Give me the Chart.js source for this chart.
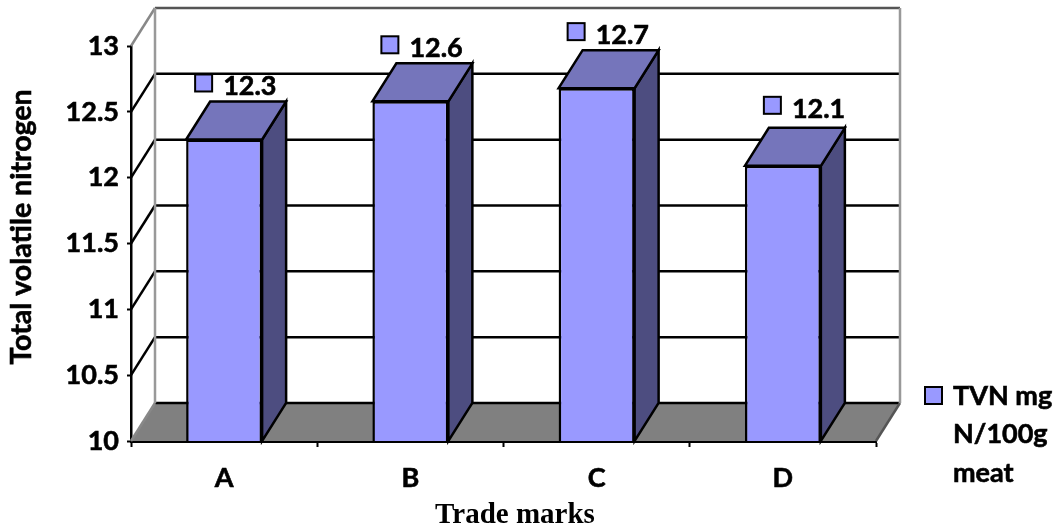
<!DOCTYPE html>
<html>
<head>
<meta charset="utf-8">
<title>Total volatile nitrogen</title>
<script src="https://cdn.jsdelivr.net/npm/chart.js@4/dist/chart.umd.min.js"></script>
<style>
  html, body { margin: 0; padding: 0; background: #fff; }
  canvas { display: block; }
</style>
</head>
<body>
<canvas id="tvn-chart" width="1060" height="529"></canvas>
<script>
const categories = ['A', 'B', 'C', 'D'];
const tvnValues = [12.29, 12.58, 12.68, 12.09];
const valueLabels = ['12.3', '12.6', '12.7', '12.1'];
const legendLines = ['TVN mg', 'N/100g', 'meat'];

// depth of the fake 3d box, in pixels
const DX = 24;
const DY = -38;
const FONT = 'bold 27px Lato';
const HEAVY = 0.6; // Lato bold is a bit thin next to the original text

function poly(ctx, pts, fill, stroke, lw) {
  ctx.beginPath();
  pts.forEach((p, i) => i ? ctx.lineTo(p[0], p[1]) : ctx.moveTo(p[0], p[1]));
  ctx.closePath();
  if (fill) { ctx.fillStyle = fill; ctx.fill(); }
  if (stroke) { ctx.strokeStyle = stroke; ctx.lineWidth = lw || 2.5; ctx.stroke(); }
}

function line(ctx, x1, y1, x2, y2, color, lw) {
  ctx.beginPath();
  ctx.moveTo(x1, y1);
  ctx.lineTo(x2, y2);
  ctx.strokeStyle = color;
  ctx.lineWidth = lw || 2.5;
  ctx.stroke();
}

function swatch(ctx, x, y) {
  ctx.fillStyle = '#9999ff';
  ctx.fillRect(x - 8, y - 8, 17, 17);
  ctx.strokeStyle = '#000';
  ctx.lineWidth = 2;
  ctx.strokeRect(x - 8, y - 8, 17, 17);
}

function boldText(ctx, txt, x, y) {
  ctx.fillStyle = '#000';
  ctx.strokeStyle = '#000';
  ctx.lineWidth = HEAVY;
  ctx.fillText(txt, x, y);
  ctx.strokeText(txt, x, y);
}

const box3d = {
  id: 'box3d',
  beforeDatasetsDraw(chart) {
    const ctx = chart.ctx;
    const { left, right, bottom } = chart.chartArea;
    const yScale = chart.scales.y;
    const backBottom = bottom + DY;
    ctx.save();

    // floor
    poly(ctx, [[left, bottom], [right, bottom], [right + DX, backBottom], [left + DX, backBottom]], '#808080');
    line(ctx, left + DX, backBottom, right + DX, backBottom, '#000');
    line(ctx, left, bottom, left + DX, backBottom, '#888');
    line(ctx, right, bottom, right + DX, backBottom, '#555');

    // back wall and grid lines
    yScale.ticks.forEach(t => {
      const y = yScale.getPixelForValue(t.value);
      const top = t.value === yScale.max;
      if (t.value === yScale.min) return;
      line(ctx, left + DX, y + DY, right + DX, y + DY, top ? '#555' : '#000');
      line(ctx, left, y, left + DX, y + DY, top ? '#888' : '#000');
    });
    const wallTop = yScale.getPixelForValue(yScale.max) + DY;
    line(ctx, left + DX, wallTop, left + DX, backBottom, '#999');
    line(ctx, right + DX, wallTop, right + DX, backBottom, '#999');

    // side and top of each bar
    chart.getDatasetMeta(0).data.forEach(bar => {
      const l = bar.x - bar.width / 2;
      const r = bar.x + bar.width / 2;
      poly(ctx, [[r, bar.y], [r + DX, bar.y + DY], [r + DX, bottom + DY], [r, bottom]], '#4d4d80', '#000');
      poly(ctx, [[l, bar.y], [l + DX, bar.y + DY], [r + DX, bar.y + DY], [r, bar.y]], '#7575bb', '#000');
    });
    ctx.restore();
  },
  afterDatasetsDraw(chart) {
    const ctx = chart.ctx;
    ctx.save();
    ctx.font = FONT;
    ctx.textAlign = 'left';
    ctx.textBaseline = 'middle';

    // value labels with their little key squares, the last one sits apart
    chart.getDatasetMeta(0).data.forEach((bar, i) => {
      const shift = i === 3 ? 10 : 0;
      const lift = i === 3 ? 4 : 0;
      swatch(ctx, bar.x - 21 + shift, bar.y - 57 - lift);
      boldText(ctx, valueLabels[i], bar.x - 1 + shift, bar.y - 53 - lift);
    });

    // legend
    swatch(ctx, 933, 395);
    legendLines.forEach((txt, i) => boldText(ctx, txt, 953, 396 + i * 38.5));

    // axis titles sit off centre in the original, so they are placed here
    ctx.textAlign = 'center';
    ctx.font = 'bold 29px "Liberation Serif"';
    ctx.fillStyle = '#000';
    ctx.fillText('Trade marks', 515, 516);
    ctx.translate(22, 227);
    ctx.rotate(-Math.PI / 2);
    ctx.font = 'bold 28.5px Lato';
    boldText(ctx, 'Total volatile nitrogen', 0, 0);
    ctx.restore();
  }
};

new Chart(document.getElementById('tvn-chart'), {
  type: 'bar',
  data: {
    labels: categories,
    datasets: [{
      label: legendLines.join(' '),
      data: tvnValues,
      backgroundColor: '#9999ff',
      borderColor: '#000',
      borderWidth: 2.5,
      barPercentage: 0.408,
      categoryPercentage: 1
    }]
  },
  options: {
    responsive: false,
    animation: false,
    layout: { padding: { left: 0, top: 46, right: 184, bottom: 0 } },
    plugins: { legend: { display: false }, tooltip: { enabled: false } },
    scales: {
      x: {
        afterFit(s) { s.height = 88; },
        border: { color: '#000', width: 3 },
        grid: { drawOnChartArea: false, color: '#000', tickLength: 6, tickWidth: 2 },
        ticks: {
          color: '#000',
          font: { family: 'Lato', size: 27, weight: 'bold' },
          padding: 15,
          maxRotation: 0,
          textStrokeColor: '#000',
          textStrokeWidth: HEAVY
        }
      },
      y: {
        min: 10,
        max: 13,
        afterFit(s) { s.width = 131; },
        border: { color: '#000', width: 2.5 },
        grid: { drawOnChartArea: false, color: '#000', tickLength: 4, tickWidth: 2 },
        ticks: {
          stepSize: 0.5,
          color: '#000',
          font: { family: 'Lato', size: 27, weight: 'bold' },
          padding: 8,
          textStrokeColor: '#000',
          textStrokeWidth: HEAVY,
          callback: v => String(v)
        }
      }
    }
  },
  plugins: [box3d]
});
</script>
</body>
</html>
